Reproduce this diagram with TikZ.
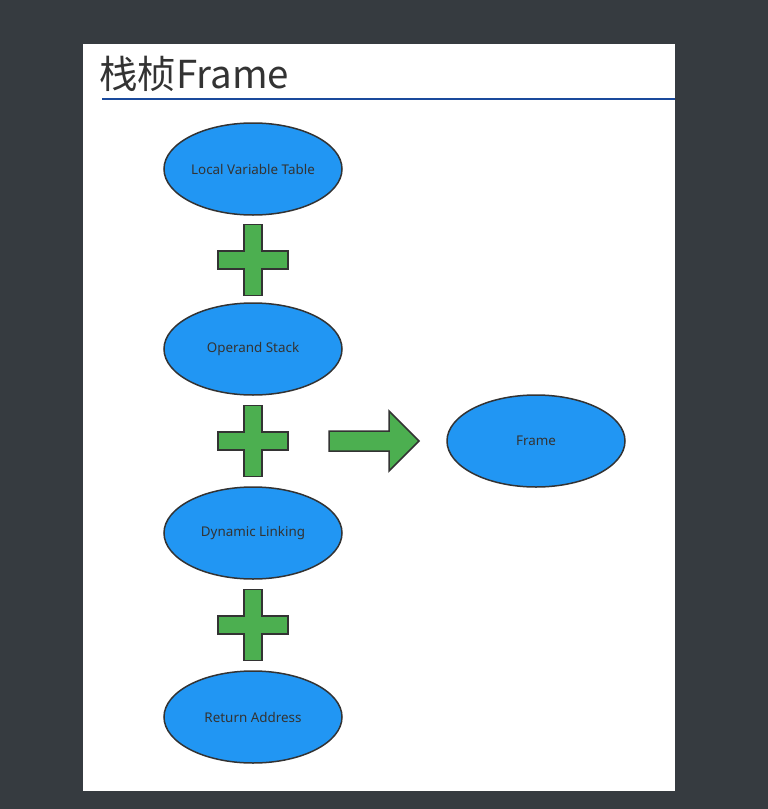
\documentclass[tikz,border=0pt]{standalone}
\usepackage{fontspec}
\setmainfont{Noto Sans}
\newfontfamily\cjkfont{Noto Sans CJK SC}
\usetikzlibrary{shapes.geometric}

\definecolor{pagebg}{HTML}{363B40}
\definecolor{blobblue}{HTML}{2196F3}
\definecolor{plusgreen}{HTML}{4CAF50}
\definecolor{rulecol}{HTML}{1A4A9C}
\definecolor{inkgray}{HTML}{333333}

\tikzset{
    blob/.style={ellipse, draw=inkgray, line width=1.5pt, fill=blobblue,
        minimum width=178pt, minimum height=92pt, inner sep=0pt,
        text=inkgray, font=\fontsize{13.4}{15}\selectfont},
    greenbit/.style={draw=inkgray, line width=1.5pt, fill=plusgreen, line join=miter}
}

\begin{document}
\begin{tikzpicture}[x=1pt, y=-1pt]
    \fill[pagebg] (0,0) rectangle (768,809);
    \useasboundingbox (0,0) rectangle (768,809);
    \fill[white] (83,44) rectangle (675,791);

    % title
    \node[anchor=base west, inner sep=0pt, text=inkgray,
        font=\cjkfont\fontsize{38.5}{44}\selectfont] (title) at (99,88) {栈桢Frame};
    \draw[rulecol, line width=2pt] (102,98.5) -- (675,98.5);

    % frame parts
    \node[blob] (lvt) at (253,169) {Local Variable Table};
    \node[blob] (ops) at (253,349) {Operand Stack};
    \node[blob] (dyn) at (253,533) {Dynamic Linking};
    \node[blob] (ret) at (253,717) {Return Address};
    \node[blob] (frm) at (536,441) {Frame};

    % plus signs
    \foreach \cy in {260,441,625} {
        \draw[greenbit] (244,\cy-35.5) -- (262,\cy-35.5) -- (262,\cy-9)
            -- (288,\cy-9) -- (288,\cy+9) -- (262,\cy+9) -- (262,\cy+35.5)
            -- (244,\cy+35.5) -- (244,\cy+9) -- (218,\cy+9) -- (218,\cy-9)
            -- (244,\cy-9) -- cycle;
    }

    % big arrow
    \draw[greenbit] (329,431) -- (389,431) -- (389,411) -- (419,441)
        -- (389,471) -- (389,451) -- (329,451) -- cycle;
\end{tikzpicture}
\end{document}
